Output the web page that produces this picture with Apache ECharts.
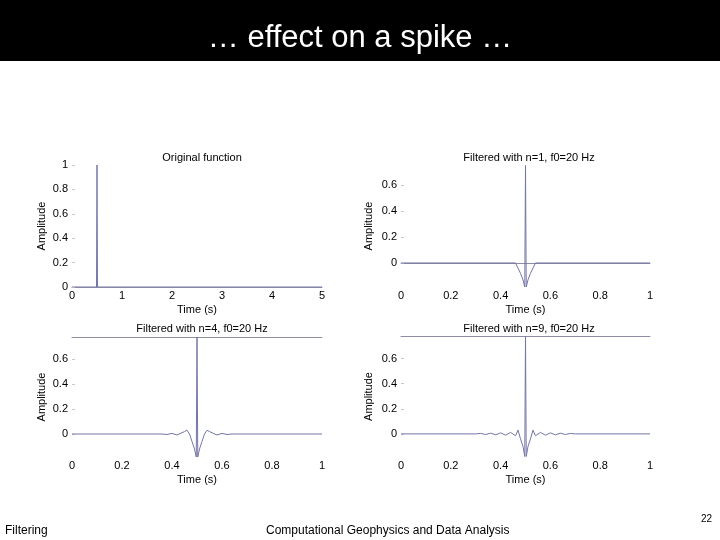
<!DOCTYPE html>
<html>
<head>
<meta charset="utf-8">
<script src="https://cdn.jsdelivr.net/npm/echarts@6/dist/echarts.min.js"></script>
<style>
html,body{margin:0;padding:0;background:#fff;}
#c{width:720px;height:540px;}
</style>
</head>
<body>
<div id="c"></div>
<script>
// ---- data ----
var slideTitle = '\u2026 effect on a spike \u2026';
var footerLeft = 'Filtering';
var footerCenter = 'Computational Geophysics and Data Analysis';
var pageNumber = '22';
var panelTitles = ['Original function', 'Filtered with n=1, f0=20 Hz', 'Filtered with n=4, f0=20 Hz', 'Filtered with n=9, f0=20 Hz'];
var xName = 'Time (s)';
var yName = 'Amplitude';

var origTime = [0, 0.49, 0.5, 0.51, 5];
var origAmp  = [0, 0, 1, 0, 0];

var n1Time = [0, 0.46, 0.47, 0.48, 0.49, 0.497, 0.5, 0.503, 0.51, 0.52, 0.53, 0.54, 1];
var n1Amp  = [0, 0, -0.04, -0.08, -0.13, -0.185, 0.75, -0.185, -0.13, -0.08, -0.04, 0, 0];

var n4Time = [0, 0.36, 0.38, 0.40, 0.42, 0.44, 0.45, 0.46, 0.47, 0.48, 0.49, 0.497, 0.5, 0.503, 0.51, 0.52, 0.53, 0.54, 0.55, 0.56, 0.58, 0.60, 0.62, 0.64, 1];
var n4Amp  = [0, 0, -0.004, 0.005, -0.008, 0.01, 0.02, 0.03, 0.0, -0.06, -0.12, -0.184, 0.776, -0.184, -0.12, -0.06, 0.0, 0.03, 0.02, 0.01, -0.008, 0.005, -0.004, 0, 0];

var n9Time = [0, 0.30, 0.32, 0.34, 0.36, 0.38, 0.40, 0.42, 0.44, 0.46, 0.47, 0.48, 0.49, 0.497, 0.5, 0.503, 0.51, 0.52, 0.53, 0.54, 0.56, 0.58, 0.60, 0.62, 0.64, 0.66, 0.68, 0.70, 1];
var n9Amp  = [0, 0, 0.004, -0.005, 0.006, -0.007, 0.008, -0.01, 0.012, -0.015, 0.03, -0.04, -0.1, -0.18, 0.776, -0.18, -0.1, -0.04, 0.03, -0.015, 0.012, -0.01, 0.008, -0.007, 0.006, -0.005, 0.004, 0, 0];

var xTicksOrig = [0, 1, 2, 3, 4, 5];
var xTicksFilt = [0, 0.2, 0.4, 0.6, 0.8, 1];
var yTicksOrig = [0, 0.2, 0.4, 0.6, 0.8, 1];
var yTicksFilt = [0, 0.2, 0.4, 0.6];

// ---- chart ----
function zip(t, v){ return t.map(function(x,i){ return [x, v[i]]; }); }

var FONT = 'Liberation Sans, Arial, sans-serif';
var lineColor = '#7476a6';
var axisColor = '#8c8ca4';
var txt = {fontFamily: FONT, fontSize: 11, color: '#000'};

var grids = [
  {left: 72, top: 165, width: 250, height: 122},
  {left: 401, top: 165, width: 249, height: 122},
  {left: 72, top: 337, width: 250, height: 120},
  {left: 401, top: 336, width: 249, height: 121}
];
var xRanges = [[0,5,xTicksOrig],[0,1,xTicksFilt],[0,1,xTicksFilt],[0,1,xTicksFilt]];
var yRanges = [[0,1,yTicksOrig],[-0.185,0.754,yTicksFilt],[-0.184,0.776,yTicksFilt],[-0.184,0.78,yTicksFilt]];
var bottomLine = [true, true, false, false];
var topLine = [false, false, true, true];
var seriesData = [zip(origTime, origAmp), zip(n1Time, n1Amp), zip(n4Time, n4Amp), zip(n9Time, n9Amp)];
var titlePos = [[197,147],[524,147],[197,318],[524,318]];

var xAxes = [], yAxes = [], series = [], titles = [];
for (var i = 0; i < 4; i++) {
  xAxes.push({
    type: 'value', gridIndex: i, min: xRanges[i][0], max: xRanges[i][1],
    position: 'bottom',
    name: xName, nameLocation: 'middle', nameGap: 17,
    nameTextStyle: txt,
    axisLine: {show: bottomLine[i], lineStyle: {color: axisColor, width: 1}},
    axisTick: {show: false},
    splitLine: {show: false},
    axisLabel: Object.assign({margin: 3, customValues: xRanges[i][2]}, txt)
  });
  xAxes.push({
    type: 'value', gridIndex: i, min: xRanges[i][0], max: xRanges[i][1],
    position: 'top',
    axisLine: {show: topLine[i], lineStyle: {color: axisColor, width: 1}},
    axisTick: {show: false}, axisLabel: {show: false}, splitLine: {show: false}
  });
  yAxes.push({
    type: 'value', gridIndex: i, min: yRanges[i][0], max: yRanges[i][1],
    name: yName, nameLocation: 'middle', nameGap: (i % 2 === 0 ? 25 : 27),
    nameTextStyle: txt,
    axisLine: {show: false},
    axisTick: {show: true, inside: true, length: 3, customValues: yRanges[i][2], lineStyle: {color: '#c8c8d0'}},
    splitLine: {show: false},
    axisLabel: Object.assign({margin: 4, customValues: yRanges[i][2]}, txt)
  });
  series.push({
    type: 'line', xAxisIndex: i * 2, yAxisIndex: i,
    data: seriesData[i], showSymbol: false, symbol: 'none',
    lineStyle: {color: lineColor, width: 1}, animation: false, silent: true
  });
  titles.push({
    text: panelTitles[i], left: titlePos[i][0], top: titlePos[i][1], textAlign: 'center',
    textStyle: {fontFamily: FONT, fontSize: 11, fontWeight: 'normal', color: '#000'}
  });
}

var chart = echarts.init(document.getElementById('c'), null, {renderer: 'canvas'});
chart.setOption({
  backgroundColor: '#fff',
  animation: false,
  title: titles,
  grid: grids,
  xAxis: xAxes,
  yAxis: yAxes,
  series: series,
  graphic: [
    {type: 'rect', left: 0, top: 0, z: -1, shape: {width: 720, height: 61}, style: {fill: '#000'}},
    {type: 'text', left: 'center', top: 23, style: {text: slideTitle, fill: '#fff', font: '31px ' + FONT}},
    {type: 'text', left: 5, top: 525, style: {text: footerLeft, fill: '#000', font: '12px ' + FONT}},
    {type: 'text', left: 266, top: 525, style: {text: footerCenter, fill: '#000', font: '12px ' + FONT}},
    {type: 'text', left: 701, top: 514, style: {text: pageNumber, fill: '#000', font: '10px ' + FONT}}
  ]
});
</script>
</body>
</html>
